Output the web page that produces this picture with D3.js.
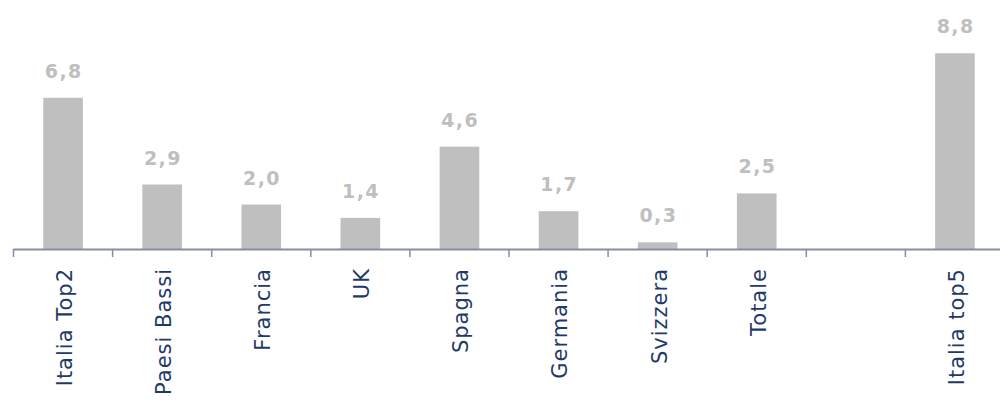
<html>
<head>
<title>Bar chart</title>
<style>
  body { margin: 0; background: #fff; }
  svg { display: block; }
</style>
</head>
<body>
<svg></svg>
<script src="https://d3js.org/d3.v7.min.js"></script>
<script>
// data
var categories = ["Italia Top2", "Paesi Bassi", "Francia", "UK", "Spagna", "Germania", "Svizzera", "Totale", "", "Italia top5"];
var values = [6.8, 2.9, 2.0, 1.4, 4.6, 1.7, 0.3, 2.5, null, 8.8];
var valueLabels = ["6,8", "2,9", "2,0", "1,4", "4,6", "1,7", "0,3", "2,5", "", "8,8"];

var width = 1000, height = 400;
var svg = d3.select("svg").attr("width", width).attr("height", height);

var keys = categories.map(function(c, i) { return i; });
var x = d3.scaleBand()
    .domain(keys)
    .range([13.5, 1004.5])
    .paddingInner(0.6)
    .paddingOuter(0.3);

var y = d3.scaleLinear().domain([0, 10]).range([249, 26.6]);

var data = keys.map(function(i) {
  return { i: i, name: categories[i], v: values[i], lab: valueLabels[i] };
});

// bars
svg.append("g").selectAll("rect")
  .data(data.filter(function(d) { return d.v != null; }))
  .enter().append("rect")
  .attr("x", function(d) { return x(d.i); })
  .attr("y", function(d) { return y(d.v); })
  .attr("width", x.bandwidth())
  .attr("height", function(d) { return y(0) - y(d.v); })
  .attr("fill", "#bfbfbf");

// value labels
svg.append("g").selectAll("text")
  .data(data.filter(function(d) { return d.v != null; }))
  .enter().append("text")
  .attr("x", function(d) { return x(d.i) + x.bandwidth() / 2 + 0.7; })
  .attr("y", function(d) { return y(d.v) - 20; })
  .attr("text-anchor", "middle")
  .style("font-family", "'DejaVu Sans', sans-serif")
  .style("font-weight", "bold")
  .style("font-size", "19px")
  .style("letter-spacing", "1.4px")
  .style("fill", "#bfbfbf")
  .text(function(d) { return d.lab; });

// axis line and tick marks between categories
var axisColor = "#868ea6";
svg.append("line")
  .attr("x1", 13.5).attr("x2", width)
  .attr("y1", y(0) + 0.5).attr("y2", y(0) + 0.5)
  .attr("stroke", axisColor).attr("stroke-width", 2);

svg.append("g").selectAll("line")
  .data(keys)
  .enter().append("line")
  .attr("x1", function(i) { return x(i) - x.step() * x.paddingInner() / 2; })
  .attr("x2", function(i) { return x(i) - x.step() * x.paddingInner() / 2; })
  .attr("y1", y(0)).attr("y2", y(0) + 8)
  .attr("stroke", axisColor).attr("stroke-width", 1.5);

// category labels, rotated
svg.append("g").selectAll("text")
  .data(data)
  .enter().append("text")
  .attr("transform", function(d) {
    return "translate(" + (x(d.i) + x.bandwidth() / 2 + 1.5) + ",268) rotate(-90)";
  })
  .attr("dy", "0.35em")
  .attr("text-anchor", "end")
  .style("font-family", "'DejaVu Sans', sans-serif")
  .style("font-size", "21px")
  .style("letter-spacing", "1px")
  .style("fill", "#1f3a68")
  .text(function(d) { return d.name; });
</script>
</body>
</html>
